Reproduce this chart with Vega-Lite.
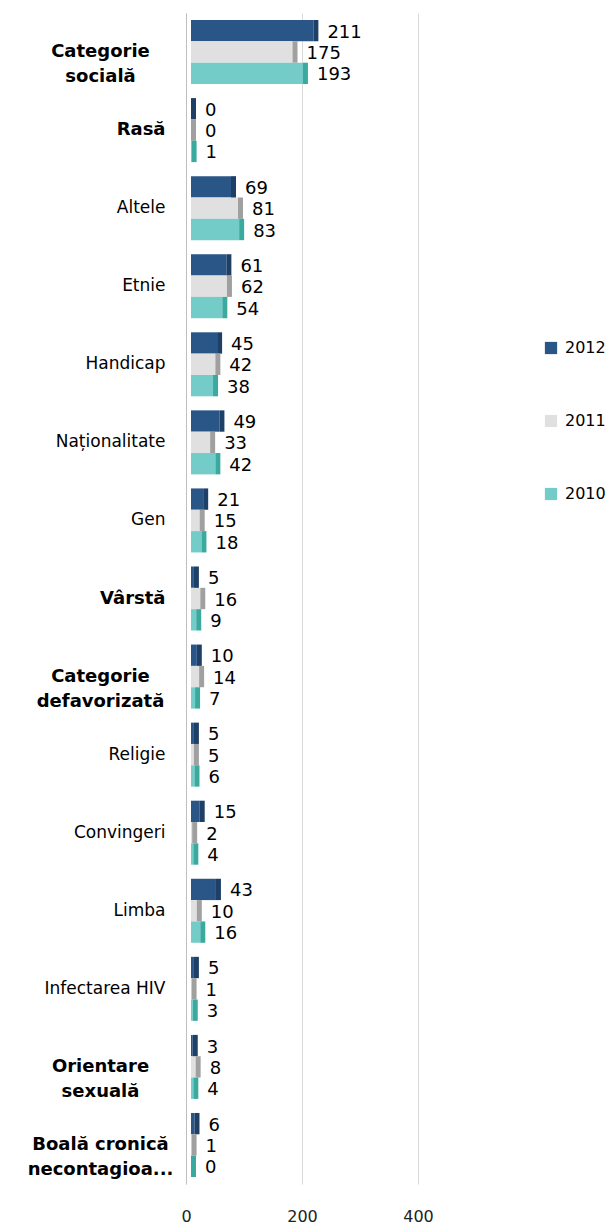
{
  "$schema": "https://vega.github.io/schema/vega-lite/v6.json",
  "autosize": {"type": "none"},
  "width": 232,
  "height": 1171,
  "padding": {"left": 186, "top": 13, "right": 194, "bottom": 47},
  "background": "white",
  "config": {"view": {"stroke": null}},
  "data": {
    "values": [
      {"category": "Categorie socială", "year": "2012", "value": 211},
      {"category": "Categorie socială", "year": "2011", "value": 175},
      {"category": "Categorie socială", "year": "2010", "value": 193},
      {"category": "Rasă", "year": "2012", "value": 0},
      {"category": "Rasă", "year": "2011", "value": 0},
      {"category": "Rasă", "year": "2010", "value": 1},
      {"category": "Altele", "year": "2012", "value": 69},
      {"category": "Altele", "year": "2011", "value": 81},
      {"category": "Altele", "year": "2010", "value": 83},
      {"category": "Etnie", "year": "2012", "value": 61},
      {"category": "Etnie", "year": "2011", "value": 62},
      {"category": "Etnie", "year": "2010", "value": 54},
      {"category": "Handicap", "year": "2012", "value": 45},
      {"category": "Handicap", "year": "2011", "value": 42},
      {"category": "Handicap", "year": "2010", "value": 38},
      {"category": "Naționalitate", "year": "2012", "value": 49},
      {"category": "Naționalitate", "year": "2011", "value": 33},
      {"category": "Naționalitate", "year": "2010", "value": 42},
      {"category": "Gen", "year": "2012", "value": 21},
      {"category": "Gen", "year": "2011", "value": 15},
      {"category": "Gen", "year": "2010", "value": 18},
      {"category": "Vârstă", "year": "2012", "value": 5},
      {"category": "Vârstă", "year": "2011", "value": 16},
      {"category": "Vârstă", "year": "2010", "value": 9},
      {"category": "Categorie defavorizată", "year": "2012", "value": 10},
      {"category": "Categorie defavorizată", "year": "2011", "value": 14},
      {"category": "Categorie defavorizată", "year": "2010", "value": 7},
      {"category": "Religie", "year": "2012", "value": 5},
      {"category": "Religie", "year": "2011", "value": 5},
      {"category": "Religie", "year": "2010", "value": 6},
      {"category": "Convingeri", "year": "2012", "value": 15},
      {"category": "Convingeri", "year": "2011", "value": 2},
      {"category": "Convingeri", "year": "2010", "value": 4},
      {"category": "Limba", "year": "2012", "value": 43},
      {"category": "Limba", "year": "2011", "value": 10},
      {"category": "Limba", "year": "2010", "value": 16},
      {"category": "Infectarea HIV", "year": "2012", "value": 5},
      {"category": "Infectarea HIV", "year": "2011", "value": 1},
      {"category": "Infectarea HIV", "year": "2010", "value": 3},
      {"category": "Orientare sexuală", "year": "2012", "value": 3},
      {"category": "Orientare sexuală", "year": "2011", "value": 8},
      {"category": "Orientare sexuală", "year": "2010", "value": 4},
      {"category": "Boală cronică necontagioa...", "year": "2012", "value": 6},
      {"category": "Boală cronică necontagioa...", "year": "2011", "value": 1},
      {"category": "Boală cronică necontagioa...", "year": "2010", "value": 0}
    ]
  },
  "encoding": {
    "y": {
      "field": "category",
      "type": "nominal",
      "sort": null,
      "scale": {"paddingInner": 0.18, "paddingOuter": 0.09},
      "axis": {
        "title": null,
        "ticks": false,
        "domain": true,
        "domainColor": "#bfbfbf",
        "labelFont": "DejaVu Sans",
        "labelColor": "#000000",
        "labelLimit": 200,
        "labelExpr": "datum.value == 'Boală cronică necontagioa...' ? ['Boală cronică', 'necontagioa...'] : (indexof(['Categorie socială', 'Categorie defavorizată', 'Orientare sexuală'], datum.value) >= 0 ? split(datum.value, ' ') : datum.value)",
        "labelFontWeight": {"condition": {"test": "indexof(['Categorie socială', 'Rasă', 'Vârstă', 'Categorie defavorizată', 'Orientare sexuală', 'Boală cronică necontagioa...'], datum.value) >= 0", "value": "bold"}, "value": "normal"},
        "labelFontSize": {"condition": {"test": "indexof(['Categorie socială', 'Rasă', 'Vârstă', 'Categorie defavorizată', 'Orientare sexuală', 'Boală cronică necontagioa...'], datum.value) >= 0", "value": 18}, "value": 17},
        "labelAlign": {"condition": {"test": "indexof(['Categorie socială', 'Categorie defavorizată', 'Orientare sexuală', 'Boală cronică necontagioa...'], datum.value) >= 0", "value": "center"}, "value": "right"},
        "labelPadding": {"condition": {"test": "indexof(['Categorie socială', 'Categorie defavorizată', 'Orientare sexuală', 'Boală cronică necontagioa...'], datum.value) >= 0", "value": 86}, "value": 21},
        "labelLineHeight": 25
      }
    },
    "yOffset": {
      "field": "year",
      "type": "nominal",
      "sort": ["2012", "2011", "2010"]
    },
    "x": {
      "field": "value",
      "type": "quantitative",
      "scale": {"domain": [0, 400]},
      "axis": {
        "title": null,
        "values": [0, 200, 400],
        "ticks": false,
        "domain": false,
        "grid": true,
        "gridColor": "#d9d9d9",
        "labelFlush": false,
        "labelFont": "DejaVu Sans",
        "labelFontSize": 16,
        "labelColor": "#222222",
        "labelPadding": 24
      }
    }
  },
  "layer": [
    {
      "mark": {"type": "bar", "stroke": null, "xOffset": 5, "x2Offset": 5},
      "encoding": {
        "color": {
          "field": "year",
          "type": "nominal",
          "sort": ["2012", "2011", "2010"],
          "scale": {"domain": ["2012", "2011", "2010"], "range": ["#2A5587", "#E0E0E0", "#74CCC8"]},
          "legend": {
            "title": null,
            "orient": "none",
            "legendX": 357,
            "legendY": 327,
            "symbolType": "square",
            "symbolSize": 150,
            "symbolStrokeWidth": 0,
            "labelFont": "DejaVu Sans",
            "labelFontSize": 16,
            "labelColor": "#000000",
            "rowPadding": 57,
            "labelOffset": 6
          }
        }
      }
    },
    {
      "mark": {"type": "bar", "stroke": null, "xOffset": 5, "x2Offset": 10},
      "encoding": {
        "x2": {"field": "value"},
        "color": {
          "field": "year",
          "type": "nominal",
          "scale": {"domain": ["2012", "2011", "2010"], "range": ["#1E3F66", "#A0A0A0", "#3AA99E"]},
          "legend": null
        }
      }
    },
    {
      "mark": {"type": "text", "align": "left", "baseline": "middle", "dx": 19, "dy": 2, "font": "DejaVu Sans", "fontSize": 18, "color": "#000000"},
      "encoding": {
        "text": {"field": "value", "type": "quantitative"}
      }
    }
  ],
  "resolve": {"scale": {"color": "independent"}}
}
